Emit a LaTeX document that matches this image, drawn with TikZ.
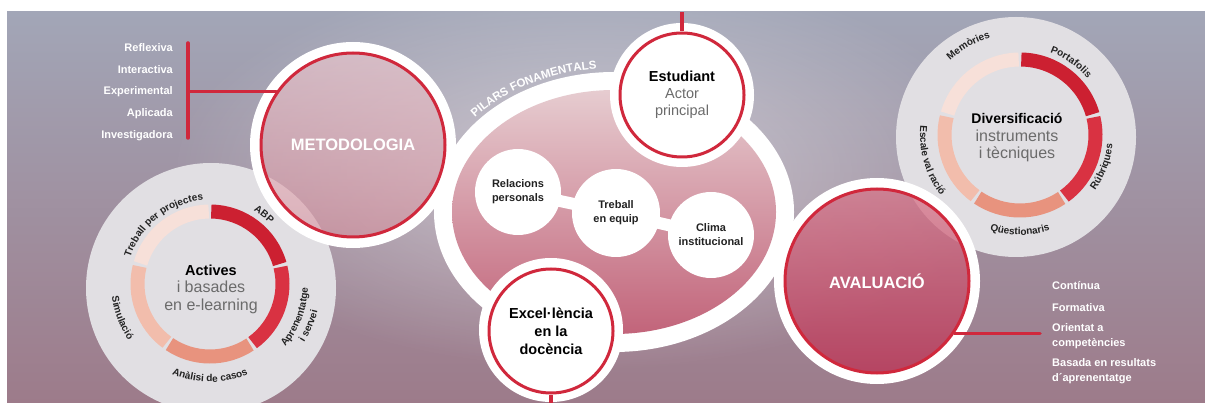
\documentclass[tikz,border=0pt]{standalone}
\usepackage{fontspec}
\setmainfont{Liberation Sans}
\usetikzlibrary{decorations.text,fadings}
\definecolor{bgtop}{HTML}{A2A6B7}
\definecolor{bgbot}{HTML}{9D7B8A}
\definecolor{cred}{HTML}{D0283C}
\definecolor{seg1}{HTML}{CC2031}
\definecolor{seg2}{HTML}{D93242}
\definecolor{seg3}{HTML}{E8937E}
\definecolor{seg4}{HTML}{F2BDAC}
\definecolor{seg5}{HTML}{F7E0D9}
\definecolor{disk}{HTML}{E1DFE3}
\definecolor{elltop}{HTML}{E6CCD0}
\definecolor{ellbot}{HTML}{C2647A}
\definecolor{gtext}{HTML}{6B6B6B}
\definecolor{lbl}{HTML}{222222}
\definecolor{mettop}{RGB}{242,200,206}
\definecolor{metbot}{RGB}{215,145,158}
\definecolor{avatop}{RGB}{215,118,138}
\definecolor{avabot}{RGB}{190,50,84}
\tikzfading[name=glowfade, inner color=transparent!15, outer color=transparent!100]
\newcommand\fsz[2]{\fontsize{#1}{#2}\selectfont}
\newcommand\ringfont{\fontsize{10}{10}\selectfont\bfseries}
\newcommand\pilfont{\fontsize{11.5}{11.5}\selectfont\bfseries}
\newcommand\ringseg[5]{\draw[line width=14, #5] (#1) ++(#3:#2) arc[start angle=#3, end angle=#4, radius=#2];}
\newcommand\arclabout[5]{\pgfmathsetmacro\lbS{#3+#4}\pgfmathsetmacro\lbE{#3-#4}%
  \path[decorate, decoration={text along path, text align=center, text color=lbl, text={|\ringfont|#5}}] (#1) ++(\lbS:#2) arc[start angle=\lbS, end angle=\lbE, radius=#2];}
\newcommand\arclabin[5]{\pgfmathsetmacro\lbS{#3-#4}\pgfmathsetmacro\lbE{#3+#4}%
  \path[decorate, decoration={text along path, text align=center, text color=lbl, text={|\ringfont|#5}}] (#1) ++(\lbS:#2) arc[start angle=\lbS, end angle=\lbE, radius=#2];}
\begin{document}
\begin{tikzpicture}[x=1pt,y=1pt,
  redline/.style={draw=cred, line width=3.5, line cap=round},
  bigcirc/.style={circle, draw=cred, line width=3, inner sep=0pt, minimum size=184, text=white, font=\fsz{16.5}{18}\bfseries},
  smallcirc/.style={circle, draw=cred, fill=white, line width=3, inner sep=0pt, minimum size=124, align=center},
  innercirc/.style={circle, fill=white, inner sep=0pt, minimum size=86, align=center, text=lbl, font=\fsz{11}{14}\bfseries},
  diskstyle/.style={circle, fill=disk, inner sep=0pt, align=center, text=gtext, font=\fsz{16}{17.5}},
  bridge/.style={draw=white, line width=12, shorten <=-3pt, shorten >=-3pt},
  leftlab/.style={anchor=east, inner sep=0pt, text=white, font=\fsz{11}{14}\bfseries},
  rightlab/.style={anchor=west, inner sep=0pt, text=white, align=left, font=\fsz{11}{15}\bfseries}]
\useasboundingbox (0,0) rectangle (1205,-403);
% background
\fill[white] (0,0) rectangle (1205,-403);
\shade[top color=bgtop, bottom color=bgbot] (7,-12) rectangle (1205,-403);
\begin{scope}
\clip (7,-12) rectangle (1205,-403);
\fill[white, fill opacity=0.55, path fading=glowfade] (590,-170) ellipse[x radius=420, y radius=200];
\end{scope}
% Actives disk
\node[diskstyle, minimum size=250] (actdisk) at (211,-288) {};
\coordinate (actr) at (210,-284);
\ringseg{actr}{72.5}{89}{16}{seg1}
\ringseg{actr}{72.5}{13.5}{-54}{seg2}
\ringseg{actr}{72.5}{-56.5}{-124}{seg3}
\ringseg{actr}{72.5}{-126.5}{-194}{seg4}
\ringseg{actr}{72.5}{-196.5}{-269}{seg5}
\node[align=center, text=gtext, font=\fsz{16}{17.5}] (acttxt) at (211,-289) {{\fsz{14.5}{17.5}\bfseries\color{black}Actives}\\i basades\\en e-learning};
\arclabout{actr}{84}{128}{42}{Treball per projectes}
\arclabout{actr}{85}{52}{20}{ABP}
\arclabin{actr}{98}{-21}{30}{Aprenentatge}
\arclabin{actr}{111}{-23}{20}{i servei}
\arclabin{actr}{98}{-90}{35}{Anàlisi de casos}
\arclabin{actr}{99}{201}{25}{Simulació}
% Diversificacio disk
\node[diskstyle, minimum size=240] (divdisk) at (1016,-137) {};
\coordinate (divr) at (1020,-135);
\ringseg{divr}{75.5}{89}{16}{seg1}
\ringseg{divr}{75.5}{13.5}{-54}{seg2}
\ringseg{divr}{75.5}{-56.5}{-124}{seg3}
\ringseg{divr}{75.5}{-126.5}{-194}{seg4}
\ringseg{divr}{75.5}{-196.5}{-269}{seg5}
\node[align=center, text=gtext, font=\fsz{16}{17.5}] (divtxt) at (1017,-138) {{\fsz{14}{17.5}\bfseries\color{black}Diversificació}\\instruments\\i tècniques};
\arclabout{divr}{102}{120}{25}{Memòries}
\arclabout{divr}{88}{55}{28}{Portafolis}
\arclabin{divr}{93}{-21}{28}{Rúbriques}
\arclabin{divr}{100}{-90}{32}{Qüestionaris}
\arclabin{divr}{100}{196}{32}{Escale val ració}
% central ellipse
\fill[white] (614,-212) ellipse[x radius=180, y radius=140];
\shade[top color=elltop, bottom color=ellbot] (614,-212) ellipse[x radius=162, y radius=122];
\path[decorate, decoration={text along path, text align=center, text color=white, text={|\pilfont|PILARS FONAMENTALS}}] (614,-212) ++(150:184 and 144) arc[start angle=150, end angle=86, x radius=184, y radius=144];
\node[innercirc] (rel) at (518,-192) {Relacions\\personals};
\node[innercirc, minimum size=88] (treb) at (616,-213) {Treball\\en equip};
\node[innercirc] (clima) at (711,-235) {Clima\\institucional};
\draw[bridge] (rel) -- (treb);
\draw[bridge] (treb) -- (clima);
% Metodologia
\draw[white, line width=11] (353,-145) circle (97.5);
\shade[top color=mettop, bottom color=metbot, fill opacity=0.6] (353,-145) circle (92);
\node[bigcirc] (metod) at (353,-145) {METODOLOGIA};
% Avaluacio
\draw[white, line width=11] (877,-281) circle (97.5);
\shade[top color=avatop, bottom color=avabot, fill opacity=0.75] (877,-281) circle (92);
\node[bigcirc] (aval) at (877,-281) {AVALUACIÓ};
% Estudiant
\fill[white] (682,-95) circle (72);
\node[smallcirc, font=\fsz{14.5}{17}] (estud) at (682,-95) {{\bfseries Estudiant}\\{\color{gtext}Actor}\\{\color{gtext}principal}};
% Excel.lencia
\fill[white] (551,-330) circle (72);
\node[smallcirc, font=\fsz{14.5}{18}\bfseries] (excel) at (551,-331) {Excel·lència\\en la\\docència};
% connectors
\coordinate (etop) at (682,-12);
\draw[draw=cred, line width=3.5] (estud.north) -- (etop);
\coordinate (xbot) at (551,-403);
\draw[draw=cred, line width=3.5] (excel.south) -- (xbot);
\coordinate (vtop) at (188,-43);
\coordinate (vbot) at (188,-138);
\draw[redline] (vtop) -- (vbot);
\draw[redline] (metod.145) -- (metod.145 -| vtop);
\coordinate (aend) at (1040,-332);
\draw[redline] (aval.-34) -- (aval.-34 -| aend);
% left labels
\node[leftlab] (l1) at (173,-48) {Reflexiva};
\node[leftlab] (l2) at (173,-70) {Interactiva};
\node[leftlab] (l3) at (173,-92) {Experimental};
\node[leftlab] (l4) at (173,-114) {Aplicada};
\node[leftlab] (l5) at (173,-136) {Investigadora};
% right labels
\node[rightlab] (r1) at (1052,-286) {Contínua};
\node[rightlab] (r2) at (1052,-308) {Formativa};
\node[rightlab] (r3) at (1052,-336.5) {Orientat a\\competències};
\node[rightlab] (r4) at (1052,-371.5) {Basada en resultats\\d´aprenentatge};
\end{tikzpicture}
\end{document}
